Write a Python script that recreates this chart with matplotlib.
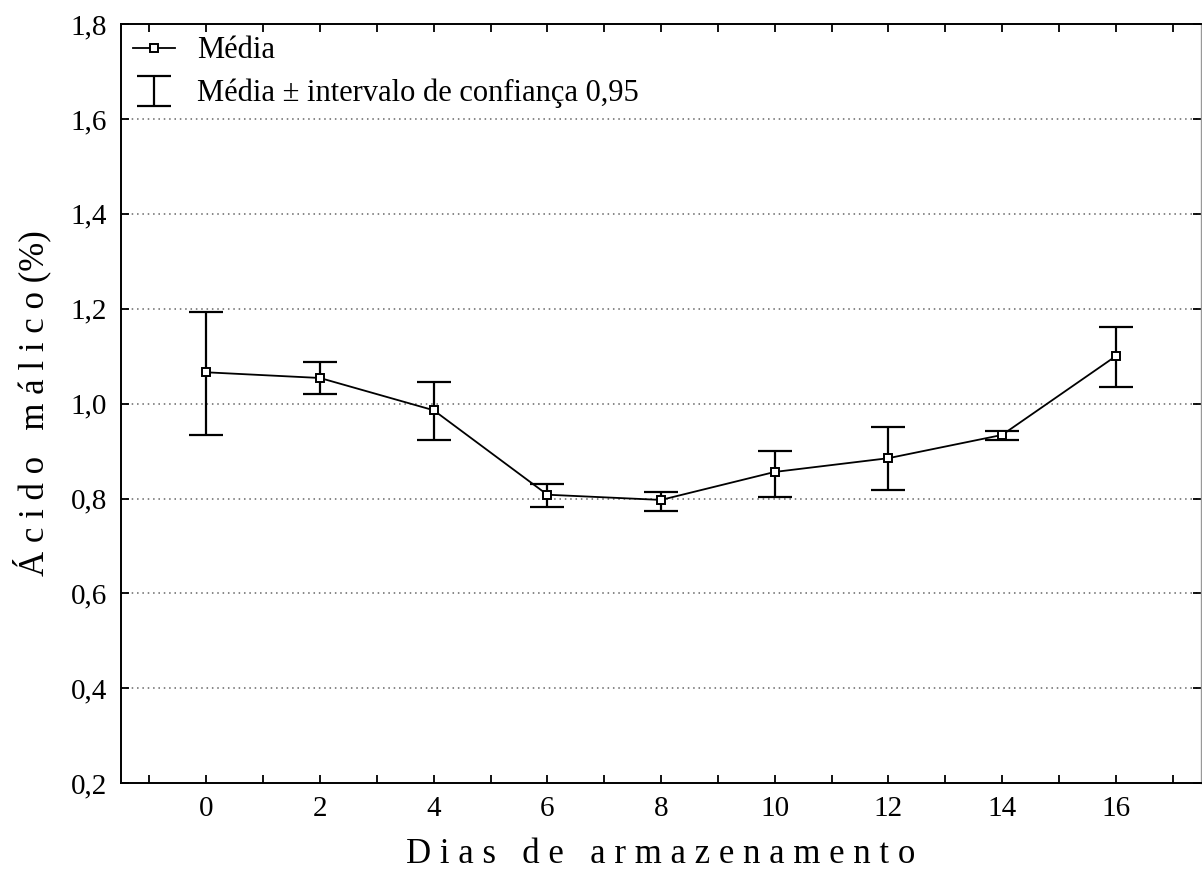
import matplotlib
matplotlib.use("Agg")
import matplotlib.pyplot as plt
from matplotlib.ticker import FuncFormatter, MultipleLocator

# storage days and malic acid means with 95% confidence limits
dias = [0, 2, 4, 6, 8, 10, 12, 14, 16]
media = [1.066, 1.054, 0.986, 0.808, 0.797, 0.856, 0.885, 0.934, 1.100]
lim_sup = [1.193, 1.087, 1.045, 0.830, 0.813, 0.900, 0.950, 0.942, 1.161]
lim_inf = [0.934, 1.020, 0.923, 0.782, 0.773, 0.803, 0.818, 0.923, 1.035]

y_ticks = [0.2, 0.4, 0.6, 0.8, 1.0, 1.2, 1.4, 1.6, 1.8]

plt.rcParams['font.family'] = ['Liberation Serif', 'DejaVu Serif']

def main():
    fig = plt.figure(figsize=(12.02, 8.80), dpi=100)
    ax = fig.add_axes([0.1007, 0.110, 0.8985, 0.8627])

    err_lo = [m - l for m, l in zip(media, lim_inf)]
    err_hi = [u - m for m, u in zip(media, lim_sup)]

    eb = ax.errorbar(dias, media, yerr=[err_lo, err_hi], fmt='none',
                     ecolor='black', elinewidth=1.6, capsize=12.5,
                     capthick=1.6, zorder=2,
                     label=u'Média ± intervalo de confiança 0,95')
    ln, = ax.plot(dias, media, color='black', lw=1.3, marker='s',
                  markersize=6, markerfacecolor='white',
                  markeredgecolor='black', markeredgewidth=1.4,
                  zorder=3, label=u'Média')

    ax.set_xlim(-1.5, 17.5)
    ax.set_ylim(0.2, 1.8)
    ax.set_xticks(dias)
    ax.xaxis.set_minor_locator(MultipleLocator(1))
    ax.set_yticks(y_ticks)
    ax.yaxis.set_major_formatter(FuncFormatter(lambda v, p: ('%.1f' % v).replace('.', ',')))

    ax.tick_params(which='both', direction='in', top=True, right=True,
                   labelsize=21, width=1.3, length=6, pad=9)
    ax.tick_params(axis='y', pad=10)

    for v in y_ticks[1:-1]:
        ax.axhline(v, color='#666666', lw=1.1, ls=(0, (1, 2.5)), zorder=1)

    for s in ax.spines.values():
        s.set_linewidth(1.4)
    ax.spines['right'].set_color('#999999')
    ax.spines['right'].set_linewidth(1.0)

    ax.set_xlabel('D i a s   d e   a r m a z e n a m e n t o', fontsize=25, labelpad=12)
    ax.set_ylabel(u'Á c i d o   m á l i c o (%)', fontsize=25, labelpad=14)

    ax.legend([ln, eb], [u'Média', u'Média ± intervalo de confiança 0,95'],
              loc='upper left', frameon=False, fontsize=22,
              handlelength=1.35, borderaxespad=0.1, labelspacing=0.45,
              handletextpad=0.75, borderpad=0.3)

    fig.savefig('out.png', dpi=100)

if __name__ == "__main__":
    main()
